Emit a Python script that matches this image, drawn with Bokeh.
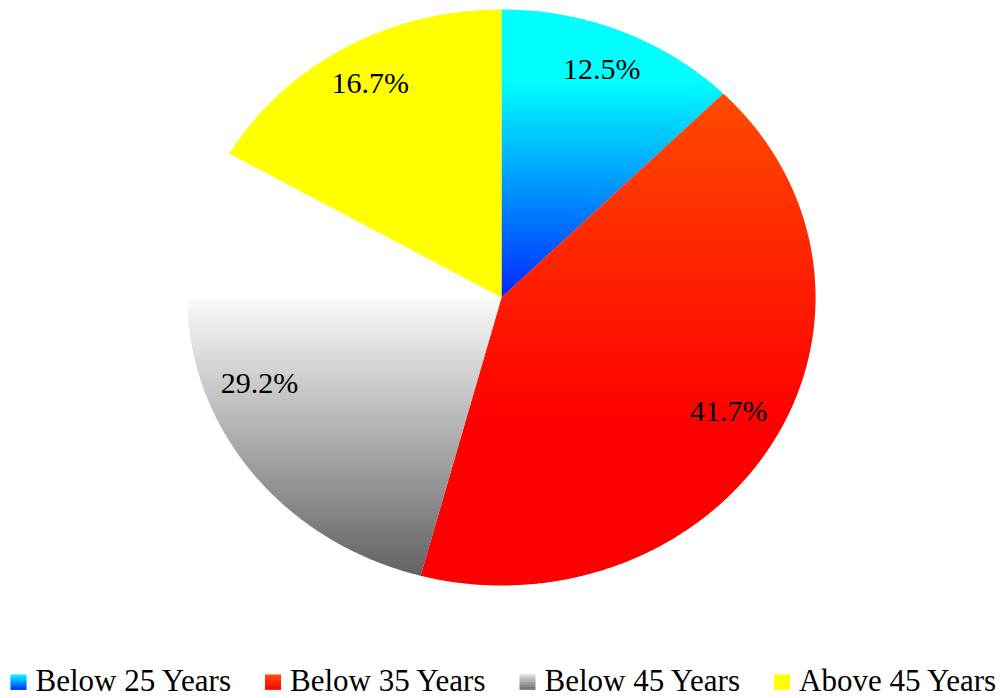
import numpy as np
from bokeh.plotting import figure
from bokeh.models import Range1d
from bokeh.core.properties import value
from bokeh.embed import file_html
from bokeh.resources import INLINE

# ---- data ----
categories = ["Below 25 Years", "Below 35 Years", "Below 45 Years", "Above 45 Years"]
shares = [12.5, 41.7, 29.2, 16.7]
labels = [f"{s:.1f}%" for s in shares]

# ---- styles (vertical gradient stops: (pixel y, rgb)) ----
slice_grads = [
    [(80, (0, 255, 255)), (297, (0, 40, 255))],
    [(95, (255, 74, 0)), (420, (255, 0, 0))],
    [(299.9, (255, 255, 255)), (300, (248, 248, 248)), (580, (96, 96, 96))],
    [(0, (255, 255, 0)), (700, (255, 255, 0))],
]
legend_grads = [
    [(0.0, (0, 255, 255)), (1.0, (0, 50, 255))],
    [(0.0, (255, 80, 0)), (1.0, (255, 0, 0))],
    [(0.0, (225, 225, 225)), (1.0, (110, 110, 110))],
    [(0.0, (255, 255, 0)), (1.0, (255, 255, 0))],
]
FONT = value("Liberation Serif")

W, H = 1006, 698
p = figure(width=W, height=H, x_range=Range1d(0, W), y_range=Range1d(H, 0),
           output_backend="svg", toolbar_location=None, min_border=0)
p.axis.visible = False
p.grid.visible = False
p.outline_line_color = None
p.background_fill_color = "white"
p.border_fill_color = "white"

CX, CY, RX, RY = 501, 297, 314, 288


def color_at(y, stops):
    ys = [s[0] for s in stops]
    rgb = [int(round(np.interp(y, ys, [s[1][c] for s in stops]))) for c in range(3)]
    return "#%02x%02x%02x" % tuple(rgb)


def clip(poly, yc, keep_ge):
    def inside(pt):
        return pt[1] >= yc if keep_ge else pt[1] <= yc

    def inter(a, b):
        t = (yc - a[1]) / (b[1] - a[1])
        return (a[0] + t * (b[0] - a[0]), yc)

    out = []
    n = len(poly)
    for k in range(n):
        cur, prev = poly[k], poly[k - 1]
        ci, pi_ = inside(cur), inside(prev)
        if ci:
            if not pi_:
                out.append(inter(prev, cur))
            out.append(cur)
        elif pi_:
            out.append(inter(prev, cur))
    return out


frac = np.array(shares) / np.sum(shares)
edges = np.concatenate([[0.0], np.cumsum(frac)]) * 2 * np.pi

band_xs, band_ys, band_cols = [], [], []
STEP = 2.0
for i in range(len(shares)):
    t = np.linspace(edges[i], edges[i + 1], 240)
    xs = np.concatenate([[CX], CX + RX * np.sin(t)])
    ys = np.concatenate([[CY], CY - RY * np.cos(t)])
    poly = list(zip(xs, ys))
    y0 = np.floor(ys.min())
    while y0 < ys.max():
        part = clip(poly, y0, True)
        if len(part) >= 3:
            part = clip(part, min(y0 + STEP + 0.6, ys.max()), False)
        if len(part) >= 3:
            band_xs.append([q[0] for q in part])
            band_ys.append([q[1] for q in part])
            band_cols.append(color_at(y0 + STEP / 2, slice_grads[i]))
        y0 += STEP

p.patches(band_xs, band_ys, fill_color=band_cols, line_color=None)

# percentage labels
mid = (edges[:-1] + edges[1:]) / 2
LR = 0.835
LABEL_DY = -7
p.text(x=list(CX + LR * RX * np.sin(mid)),
       y=list(CY - LR * RY * np.cos(mid) + LABEL_DY), text=labels,
       text_font=FONT, text_font_size="30px", text_align="center",
       text_baseline="middle", text_color="black")

# legend
SQ_L0, SQ_W, ITEM_DX, SQ_TOP, SQ_BOT = 10, 16, 254.5, 674, 689
lx0, lx1, ly0, ly1, lcol = [], [], [], [], []
for i in range(len(categories)):
    left = SQ_L0 + i * ITEM_DX
    nb = 6
    for b in range(nb):
        top = SQ_TOP + (SQ_BOT - SQ_TOP) * b / nb
        bot = SQ_TOP + (SQ_BOT - SQ_TOP) * (b + 1) / nb
        lx0.append(left)
        lx1.append(left + SQ_W)
        ly0.append(top)
        ly1.append(bot + 0.4)
        lcol.append(color_at((b + 0.5) / nb, legend_grads[i]))
p.quad(left=lx0, right=lx1, top=ly0, bottom=ly1, fill_color=lcol, line_color=None)
p.text(x=[SQ_L0 + i * ITEM_DX + 25 for i in range(len(categories))],
       y=[697] * len(categories), text=categories, text_font=FONT,
       text_font_size="31px", text_align="left", text_baseline="bottom",
       text_color="black")

open("out.html", "w").write(file_html(p, INLINE))
